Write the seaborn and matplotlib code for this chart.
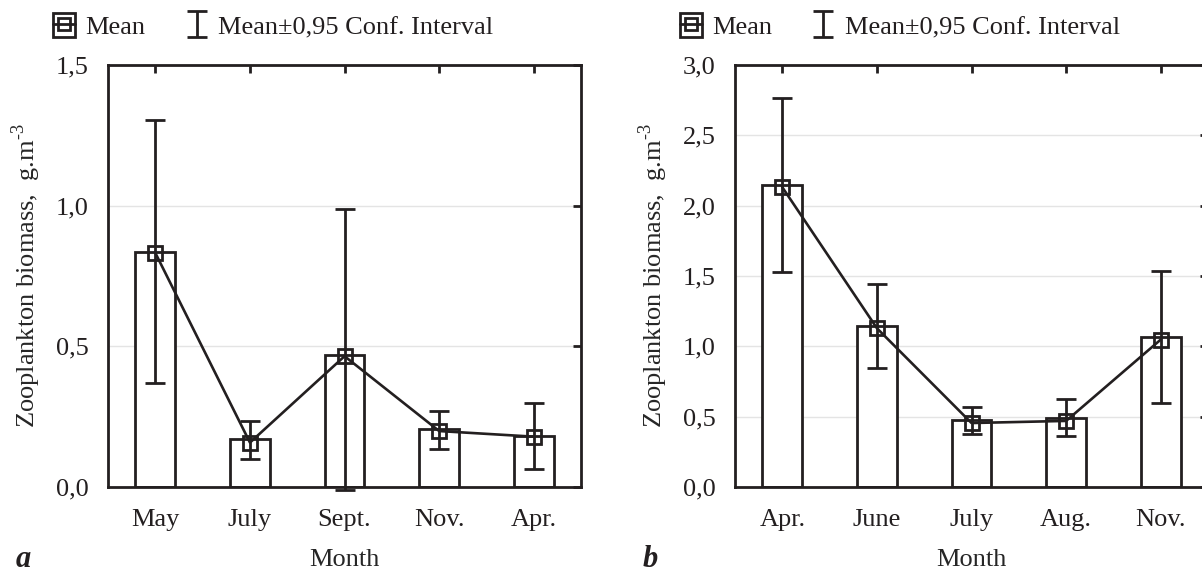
import numpy as np
import pandas as pd
import seaborn as sns
import matplotlib.pyplot as plt
from matplotlib.lines import Line2D
from matplotlib.patches import Rectangle
from matplotlib.legend_handler import HandlerTuple
from matplotlib.ticker import FuncFormatter, MultipleLocator

## panel a
months_a = ['May', 'July', 'Sept.', 'Nov.', 'Apr.']
bar_a = [0.836, 0.170, 0.469, 0.205, 0.182]
mean_a = [0.832, 0.158, 0.465, 0.199, 0.179]
lo_a = [0.369, 0.098, -0.01, 0.135, 0.065]
hi_a = [1.305, 0.236, 0.988, 0.270, 0.297]

## panel b
months_b = ['Apr.', 'June', 'July', 'Aug.', 'Nov.']
bar_b = [2.148, 1.145, 0.475, 0.494, 1.069]
mean_b = [2.131, 1.129, 0.455, 0.470, 1.048]
lo_b = [1.530, 0.844, 0.380, 0.361, 0.599]
hi_b = [2.763, 1.442, 0.570, 0.623, 1.535]

ink = '#231f20'
fs = 19

sns.set_style('white')
plt.rcParams['font.family'] = ['Liberation Serif', 'DejaVu Serif']
plt.rcParams['mathtext.fontset'] = 'custom'
plt.rcParams['mathtext.rm'] = 'Liberation Serif'
plt.rcParams['text.color'] = ink

fig = plt.figure(figsize=(12.02, 5.75), dpi=100)
ax_a = fig.add_axes([0.0899, 0.153, 0.3935, 0.7339])
ax_b = fig.add_axes([0.6115, 0.153, 0.3935, 0.7339])


def comma(v, pos):
    return f"{v:.1f}".replace('.', ',')


def panel(ax, months, bar, mean, lo, hi, ymax, step, tag):
    df = pd.DataFrame({'Month': months, 'bar': bar, 'mean': mean,
                       'lo': lo, 'hi': hi})
    ax.set_axisbelow(True)
    ax.yaxis.grid(True, color='#e4e4e4', linewidth=1)
    sns.barplot(data=df, x='Month', y='bar', color='white', edgecolor=ink,
                linewidth=2, width=0.42, errorbar=None, ax=ax, zorder=2)
    for p in ax.patches:
        p.set_facecolor('white')
    x = np.arange(len(months))
    m = df['mean'].values
    err = ax.errorbar(x, m, yerr=[m - df['lo'].values, df['hi'].values - m],
                      fmt='none', ecolor=ink, elinewidth=2, capsize=7.5,
                      capthick=2, zorder=3, clip_on=False)
    sns.pointplot(data=df, x='Month', y='mean', color=ink, marker='s',
                  markersize=9.5, markerfacecolor='none', markeredgewidth=2,
                  linewidth=1.9, errorbar=None, ax=ax, zorder=4)
    ax.set_xlim(-0.5, 4.5)
    ax.set_ylim(0, ymax)
    ax.yaxis.set_major_locator(MultipleLocator(step))
    ax.yaxis.set_major_formatter(FuncFormatter(comma))
    ax.tick_params(direction='in', top=True, right=True, length=6, width=2,
                   colors=ink, labelsize=fs, pad=14)
    ax.tick_params(axis='x', pad=16)
    for s in ax.spines.values():
        s.set_linewidth(2)
        s.set_color(ink)
    ax.set_xlabel('Month', fontsize=fs, labelpad=13)
    ax.set_ylabel(r'Zooplankton biomass,  g.m$^{\text{-3}}$', fontsize=fs,
                  labelpad=9)

    bar_h = Rectangle((0, 0), 1, 1, facecolor='white', edgecolor=ink, linewidth=2)
    mark_h = Line2D([], [], color=ink, marker='s', markersize=9,
                    markerfacecolor='none', markeredgewidth=2, linewidth=2)
    ax.legend([(bar_h, mark_h), err], ['Mean', 'Mean±0,95 Conf. Interval'],
              handler_map={tuple: HandlerTuple(ndivide=1)},
              loc='center left', bbox_to_anchor=(-0.117, 1.092), ncol=2,
              frameon=False, fontsize=fs, borderpad=0, borderaxespad=0,
              handlelength=0.85, handleheight=1.0, handletextpad=0.4,
              columnspacing=1.5)
    ax.text(-0.195, -0.206, tag, transform=ax.transAxes, fontsize=22,
            fontweight='bold', fontstyle='italic', va='bottom', ha='left')


panel(ax_a, months_a, bar_a, mean_a, lo_a, hi_a, 1.5, 0.5, 'a')
panel(ax_b, months_b, bar_b, mean_b, lo_b, hi_b, 3.0, 0.5, 'b')

fig.savefig('out.png', dpi=100)
